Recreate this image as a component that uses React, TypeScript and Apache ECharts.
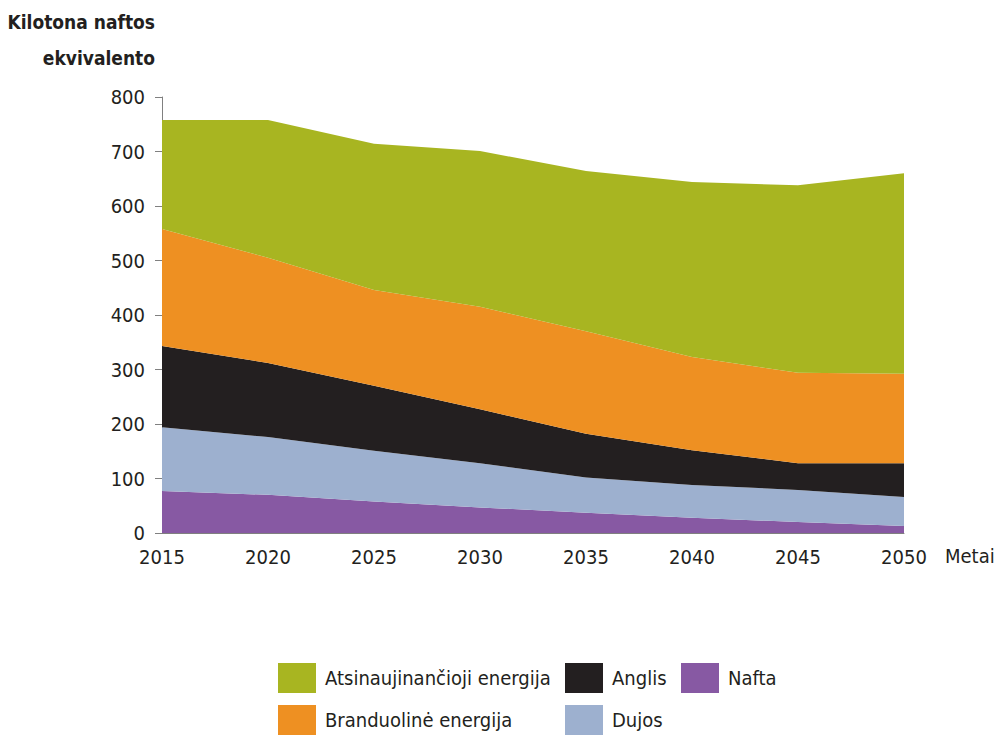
import React, { useEffect, useRef } from "react";
import * as echarts from "echarts";

const years = ["2015", "2020", "2025", "2030", "2035", "2040", "2045", "2050"];
const nafta = [77, 70, 58, 47, 37, 28, 20, 13];
const dujos = [117, 106, 93, 81, 65, 60, 59, 53];
const anglis = [149, 136, 119, 99, 80, 64, 49, 62];
const branduoline = [215, 193, 176, 188, 188, 171, 166, 164];
const atsinaujinancioji = [200, 253, 268, 286, 294, 321, 344, 368];

const FONT = "'DejaVu Sans Condensed', 'Liberation Sans Narrow', sans-serif";
const TXT = "#231f20";

export default function App() {
  const ref = useRef<HTMLDivElement>(null);
  useEffect(() => {
    const chart = echarts.init(ref.current!, null, { renderer: "svg" });
    const mk = (name: string, data: number[], color: string) => ({
      name,
      type: "line",
      stack: "total",
      data,
      symbol: "none",
      lineStyle: { width: 0 },
      areaStyle: { color, opacity: 1 },
      itemStyle: { color },
    });
    const leg = (name: string, left: number, top: number) => ({
      left,
      top,
      padding: 0,
      itemWidth: 38,
      itemHeight: 30,
      itemGap: 0,
      icon: "rect",
      selectedMode: false,
      data: [name],
      textStyle: { fontFamily: FONT, fontSize: 20, color: TXT, padding: [0, 0, 0, 4] },
    });
    chart.setOption({
      animation: false,
      grid: { left: 162, right: 96, top: 97, bottom: 202 },
      xAxis: {
        type: "category",
        data: years,
        boundaryGap: false,
        axisLine: { lineStyle: { color: "#808080", width: 1 } },
        axisTick: { show: false },
        axisLabel: { fontFamily: FONT, fontSize: 20, color: TXT, margin: 14 },
        name: "Metai",
        nameLocation: "end",
        nameGap: 41,
        nameTextStyle: {
          fontFamily: FONT,
          fontSize: 20,
          color: TXT,
          verticalAlign: "top",
          padding: [13, 0, 0, 0],
        },
      },
      yAxis: {
        type: "value",
        min: 0,
        max: 800,
        interval: 100,
        axisLine: { show: true, lineStyle: { color: "#808080", width: 1 } },
        axisTick: { show: true, length: 7, lineStyle: { color: "#808080" } },
        splitLine: { show: false },
        axisLabel: { fontFamily: FONT, fontSize: 20, color: TXT, margin: 17 },
      },
      legend: [
        leg("Atsinaujinančioji energija", 278, 663),
        leg("Branduolinė energija", 278, 705),
        leg("Anglis", 565, 663),
        leg("Dujos", 565, 705),
        leg("Nafta", 681, 663),
      ],
      graphic: [
        {
          type: "text",
          x: 155,
          y: 22,
          style: {
            text: "Kilotona naftos",
            fontFamily: FONT,
            fontSize: 19,
            fontWeight: "bold",
            fill: TXT,
            align: "right",
            verticalAlign: "middle",
          },
        },
        {
          type: "text",
          x: 155,
          y: 58,
          style: {
            text: "ekvivalento",
            fontFamily: FONT,
            fontSize: 19,
            fontWeight: "bold",
            fill: TXT,
            align: "right",
            verticalAlign: "middle",
          },
        },
      ],
      series: [
        mk("Nafta", nafta, "#8759a3"),
        mk("Dujos", dujos, "#9db0cf"),
        mk("Anglis", anglis, "#231f20"),
        mk("Branduolinė energija", branduoline, "#ee9022"),
        mk("Atsinaujinančioji energija", atsinaujinancioji, "#a8b521"),
      ],
    });
    return () => chart.dispose();
  }, []);
  return <div ref={ref} style={{ width: 1000, height: 735, position: "absolute", left: 0, top: 0 }} />;
}
